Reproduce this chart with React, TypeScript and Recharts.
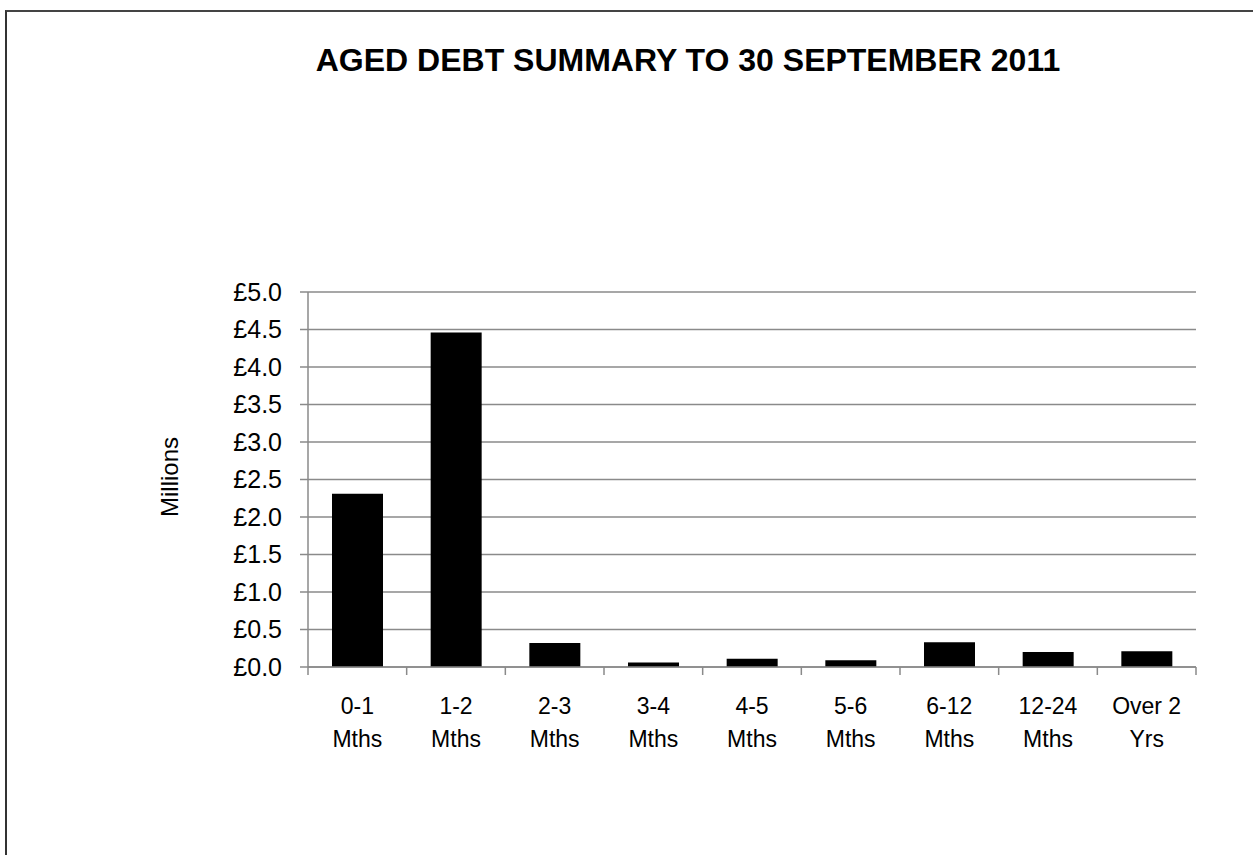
import React from "react";
import { BarChart, Bar, XAxis, YAxis, CartesianGrid } from "recharts";

const categories = [
  "0-1 Mths",
  "1-2 Mths",
  "2-3 Mths",
  "3-4 Mths",
  "4-5 Mths",
  "5-6 Mths",
  "6-12 Mths",
  "12-24 Mths",
  "Over 2 Yrs",
];
const debtMillions = [2.31, 4.46, 0.32, 0.06, 0.11, 0.09, 0.33, 0.2, 0.21];
const yTicks = [0, 0.5, 1, 1.5, 2, 2.5, 3, 3.5, 4, 4.5, 5];
const titleText = "AGED DEBT SUMMARY TO 30 SEPTEMBER 2011";
const yAxisTitle = "Millions";

const data = categories.map((c, i) => ({ category: c, value: debtMillions[i] }));

const W = 1253;
const H = 855;
const PLOT_LEFT = 308;
const PLOT_RIGHT = 1196;
const PLOT_TOP = 292;
const PLOT_BOTTOM = 667;
const XAXIS_H = 100;
const BAND = (PLOT_RIGHT - PLOT_LEFT) / categories.length;
const FONT = "'Liberation Sans', Arial, sans-serif";
const GRID = "#8a8a8a";

const splitLabel = (s: string) => {
  const i = s.lastIndexOf(" ");
  return [s.slice(0, i), s.slice(i + 1)];
};

const XTick = (props: any) => {
  const { x, payload, index } = props;
  const [l1, l2] = splitLabel(String(payload.value));
  const last = index === categories.length - 1;
  return (
    <g>
      <line x1={x - BAND / 2} y1={PLOT_BOTTOM} x2={x - BAND / 2} y2={PLOT_BOTTOM + 8} stroke={GRID} strokeWidth={1.5} />
      {last && (
        <line x1={x + BAND / 2} y1={PLOT_BOTTOM} x2={x + BAND / 2} y2={PLOT_BOTTOM + 8} stroke={GRID} strokeWidth={1.5} />
      )}
      <text x={x} y={PLOT_BOTTOM + 47} textAnchor="middle" fontFamily={FONT} fontSize={23} fill="#000">
        {l1}
      </text>
      <text x={x} y={PLOT_BOTTOM + 80} textAnchor="middle" fontFamily={FONT} fontSize={23} fill="#000">
        {l2}
      </text>
    </g>
  );
};

export default function App() {
  return (
    <div style={{ position: "fixed", left: 0, top: 0, width: W, height: H, overflow: "hidden", background: "#fff" }}>
      <div
        style={{
          position: "absolute",
          left: 5,
          top: 10,
          width: W + 20,
          height: H + 20,
          borderTop: "2px solid #444",
          borderLeft: "2px solid #333",
          boxSizing: "border-box",
        }}
      />
      <div
        style={{
          position: "absolute",
          left: 688 - 500,
          width: 1000,
          top: 43,
          textAlign: "center",
          fontFamily: FONT,
          fontWeight: "bold",
          fontSize: 32,
          lineHeight: "34px",
          color: "#000",
        }}
      >
        {titleText}
      </div>
      <div
        style={{
          position: "absolute",
          left: 170 - 60,
          top: 477 - 15,
          width: 120,
          height: 30,
          lineHeight: "30px",
          textAlign: "center",
          transform: "rotate(-90deg)",
          fontFamily: FONT,
          fontSize: 24,
          color: "#000",
        }}
      >
        {yAxisTitle}
      </div>
      <div style={{ position: "absolute", left: 0, top: 0 }}>
        <BarChart
          width={W}
          height={H}
          data={data}
          margin={{ top: PLOT_TOP, right: W - PLOT_RIGHT, bottom: H - PLOT_BOTTOM - XAXIS_H, left: 0 }}
          barSize={51}
        >
          <CartesianGrid horizontal vertical={false} stroke={GRID} strokeWidth={1.5} />
          <XAxis
            dataKey="category"
            height={XAXIS_H}
            axisLine={{ stroke: GRID, strokeWidth: 1.5 }}
            tickLine={false}
            tick={<XTick />}
            interval={0}
          />
          <YAxis
            width={PLOT_LEFT}
            domain={[0, 5]}
            ticks={yTicks}
            interval={0}
            tickFormatter={(v: number) => `£${v.toFixed(1)}`}
            axisLine={{ stroke: GRID, strokeWidth: 1.5 }}
            tickLine={{ stroke: GRID, strokeWidth: 1.5 }}
            tickSize={8}
            tickMargin={18}
            tick={{ fontFamily: FONT, fontSize: 25, fill: "#000" }}
          />
          <Bar dataKey="value" fill="#000" isAnimationActive={false} />
        </BarChart>
      </div>
    </div>
  );
}
